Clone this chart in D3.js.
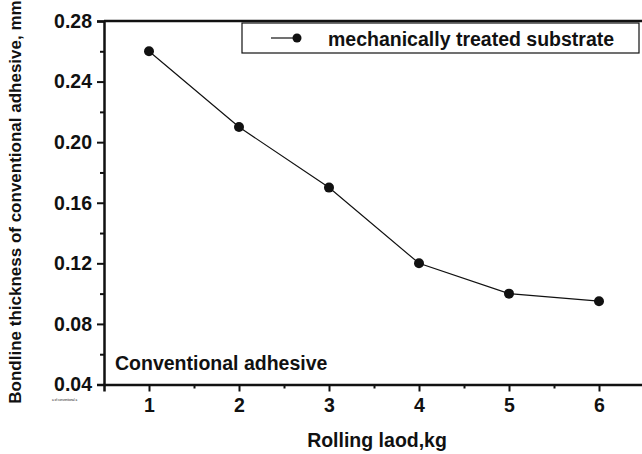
<!DOCTYPE html>
<html><head><meta charset="utf-8">
<script src="https://cdn.jsdelivr.net/npm/d3@7/dist/d3.min.js"></script>
<style>body{margin:0;background:#fff}svg{display:block}text{font-family:Arial,"Liberation Sans",sans-serif;font-weight:bold;fill:#111}</style>
</head><body><svg id="c" width="642" height="454"></svg>
<script>
const loads = [1, 2, 3, 4, 5, 6];
const thickness = [0.26, 0.21, 0.17, 0.12, 0.10, 0.095];
const yTicks = [0.04, 0.08, 0.12, 0.16, 0.20, 0.24, 0.28];
const yMinor = [0.06, 0.10, 0.14, 0.18, 0.22, 0.26];
const xTicks = [1, 2, 3, 4, 5, 6];
const xMinor = [1.5, 2.5, 3.5, 4.5, 5.5];
const seriesName = "mechanically treated substrate";

const svg = d3.select("#c");
const L = 104, R = 644, T = 21, B = 384.5;
const x = d3.scaleLinear().domain([0.5, 6.5]).range([L, R]);
const y = d3.scaleLinear().domain([0.04, 0.28]).range([B, T]);

// minor ticks
svg.append("g").attr("transform", `translate(0,${B})`)
  .call(d3.axisBottom(x).tickValues(xMinor).tickSize(4).tickFormat(""))
  .call(g => g.select(".domain").remove())
  .selectAll("line").attr("stroke", "#111").attr("stroke-width", 2);
svg.append("g").attr("transform", `translate(${L},0)`)
  .call(d3.axisLeft(y).tickValues(yMinor).tickSize(4).tickFormat(""))
  .call(g => g.select(".domain").remove())
  .selectAll("line").attr("stroke", "#111").attr("stroke-width", 2);

// major axes
const xa = svg.append("g").attr("transform", `translate(0,${B})`)
  .call(d3.axisBottom(x).tickValues(xTicks).tickSize(7).tickPadding(7).tickFormat(d3.format("d")));
const ya = svg.append("g").attr("transform", `translate(${L},0)`)
  .call(d3.axisLeft(y).tickValues(yTicks).tickSize(7).tickPadding(5).tickFormat(d3.format(".2f")));
[xa, ya].forEach(g => {
  g.select(".domain").attr("stroke", "#111").attr("stroke-width", 2.5);
  g.selectAll(".tick line").attr("stroke", "#111").attr("stroke-width", 2);
  g.selectAll("text").style("font-size", "19.5px").style("font-family", "Arial, 'Liberation Sans', sans-serif").style("font-weight", "bold").attr("fill", "#111");
});
// top frame line
svg.append("line").attr("x1", L).attr("x2", R).attr("y1", T).attr("y2", T)
  .attr("stroke", "#111").attr("stroke-width", 2.5);

// series
svg.append("path").datum(loads.map((d, i) => [d, thickness[i]]))
  .attr("fill", "none").attr("stroke", "#111").attr("stroke-width", 1.2)
  .attr("d", d3.line().x(d => x(d[0])).y(d => y(d[1])));
svg.selectAll("circle.pt").data(loads.map((d, i) => [d, thickness[i]])).enter()
  .append("circle").attr("class", "pt")
  .attr("cx", d => x(d[0])).attr("cy", d => y(d[1])).attr("r", 5).attr("fill", "#111");

// legend
svg.append("rect").attr("x", 242).attr("y", 23).attr("width", 397).attr("height", 30)
  .attr("fill", "#fff").attr("stroke", "#111").attr("stroke-width", 1.2);
svg.append("line").attr("x1", 271).attr("x2", 297).attr("y1", 38).attr("y2", 38)
  .attr("stroke", "#111").attr("stroke-width", 1.2);
svg.append("circle").attr("cx", 297).attr("cy", 38).attr("r", 4.5).attr("fill", "#111");
svg.append("text").attr("x", 328).attr("y", 45.5).style("font-size", "19.5px").text(seriesName);

// annotation
svg.append("text").attr("x", 115).attr("y", 370).style("font-size", "19.5px").text("Conventional adhesive");
svg.append("text").attr("x", 52).attr("y", 401).style("font-size", "3px").style("font-weight", "normal").text("a of conventional a");

// axis titles
svg.append("text").attr("x", 377).attr("y", 447).attr("text-anchor", "middle").style("font-size", "19.5px").text("Rolling laod,kg");
svg.append("text").attr("transform", "translate(21,202) rotate(-90)").attr("text-anchor", "middle")
  .style("font-size", "17px").text("Bondline thickness of conventional adhesive, mm");
</script></body></html>
